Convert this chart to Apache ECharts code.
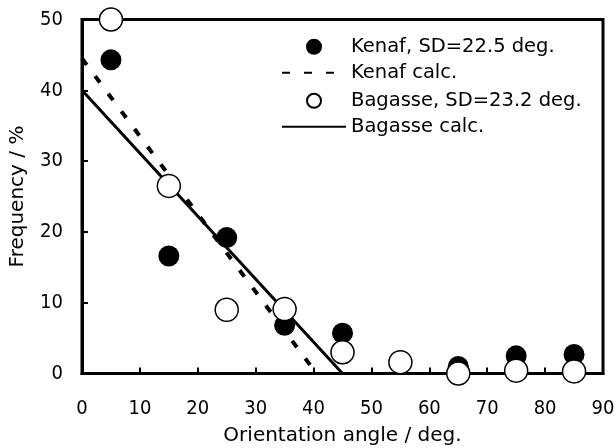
<!DOCTYPE html>
<html>
<head>
<meta charset="utf-8">
<script src="https://cdn.jsdelivr.net/npm/echarts@6/dist/echarts.min.js"></script>
<style>
  html, body { margin: 0; padding: 0; background: #fff; }
  #chart { width: 616px; height: 448px; }
</style>
</head>
<body>
<div id="chart"></div>
<script>
// Fibre orientation angle distribution: measured frequencies and calculated lines
const angles = [5, 15, 25, 35, 45, 55, 65, 75, 85];
const kenafFreq = [44.3, 16.6, 19.2, 6.8, 5.7, 1.5, 1.0, 2.5, 2.7];
const bagasseFreq = [50.0, 26.5, 9.0, 9.1, 3.0, 1.6, 0.0, 0.4, 0.3];

const kenafCalcAngle = [0, 40.5];
const kenafCalcFreq = [44.5, 0];
const bagasseCalcAngle = [0, 45];
const bagasseCalcFreq = [40, 0];

const xTicks = [0, 10, 20, 30, 40, 50, 60, 70, 80, 90];
const yTicks = [0, 10, 20, 30, 40, 50];

const seriesNames = [
  'Kenaf, SD=22.5 deg.',
  'Kenaf calc.',
  'Bagasse, SD=23.2 deg.',
  'Bagasse calc.'
];

const pairs = (xs, ys) => xs.map((x, i) => [x, ys[i]]);

const FONT = 'DejaVu Sans';
const TICK_FONT = 'DejaVu Sans Condensed';
const TITLE_SIZE = 20;
const TICK_SIZE = 20;
const LEGEND_SIZE = 19.5;

// One single-entry legend per row so each icon can get its own size
function legendRow(entry, left, centerY, iconH) {
  return {
    data: [entry],
    orient: 'vertical',
    left: left,
    top: centerY - LEGEND_SIZE / 2,
    padding: 0,
    itemWidth: 64,
    itemHeight: iconH,
    textStyle: { fontFamily: FONT, fontSize: LEGEND_SIZE, color: '#000' }
  };
}

const chart = echarts.init(document.getElementById('chart'), null, { renderer: 'canvas' });

chart.setOption({
  animation: false,
  backgroundColor: '#fff',
  textStyle: { fontFamily: FONT, color: '#000' },
  grid: {
    left: 82, right: 13, top: 19.5, bottom: 74.5,
    containLabel: false,
    outerBoundsMode: 'none',
    show: true, borderColor: '#000', borderWidth: 3, backgroundColor: 'transparent'
  },
  legend: [
    legendRow({ name: seriesNames[0], icon: 'circle' }, 306, 46.5, 16),
    legendRow({ name: seriesNames[1], itemStyle: { color: 'transparent', borderWidth: 0 } }, 281, 72.5, 16),
    legendRow({ name: seriesNames[2], icon: 'circle' }, 306, 100.5, 14),
    legendRow({ name: seriesNames[3], itemStyle: { color: 'transparent', borderWidth: 0 } }, 281, 126.5, 16)
  ],
  xAxis: {
    type: 'value',
    min: xTicks[0],
    max: xTicks[xTicks.length - 1],
    interval: xTicks[1] - xTicks[0],
    name: 'Orientation angle / deg.',
    nameLocation: 'middle',
    nameGap: 52,
    nameTextStyle: { fontFamily: FONT, fontSize: TITLE_SIZE, color: '#000' },
    axisLine: { show: true, onZero: false, lineStyle: { color: '#000', width: 3 } },
    axisTick: { show: true, inside: true, length: 6, lineStyle: { color: '#000', width: 2 } },
    axisLabel: { fontFamily: TICK_FONT, fontSize: TICK_SIZE, color: '#000', margin: 25 },
    splitLine: { show: false }
  },
  yAxis: {
    type: 'value',
    min: yTicks[0],
    max: yTicks[yTicks.length - 1],
    interval: yTicks[1] - yTicks[0],
    name: 'Frequency / %',
    nameLocation: 'middle',
    nameGap: 54,
    nameRotate: 90,
    nameTextStyle: { fontFamily: FONT, fontSize: TITLE_SIZE, color: '#000' },
    axisLine: { show: true, onZero: false, lineStyle: { color: '#000', width: 3 } },
    axisTick: { show: true, inside: true, length: 6, lineStyle: { color: '#000', width: 2 } },
    axisLabel: { fontFamily: TICK_FONT, fontSize: TICK_SIZE, color: '#000', margin: 19 },
    splitLine: { show: false }
  },
  series: [
    {
      name: seriesNames[1],
      type: 'line',
      data: pairs(kenafCalcAngle, kenafCalcFreq),
      showSymbol: false,
      symbol: 'none',
      z: 2,
      lineStyle: { color: '#000', width: 4, type: [8, 14] },
      itemStyle: { color: '#000' }
    },
    {
      name: seriesNames[3],
      type: 'line',
      data: pairs(bagasseCalcAngle, bagasseCalcFreq),
      showSymbol: false,
      symbol: 'none',
      z: 3,
      lineStyle: { color: '#000', width: 3, type: 'solid' },
      itemStyle: { color: '#000' }
    },
    {
      name: seriesNames[0],
      type: 'scatter',
      data: pairs(angles, kenafFreq),
      symbol: 'circle',
      symbolSize: 21,
      clip: false,
      z: 4,
      itemStyle: { color: '#000', borderColor: '#000', borderWidth: 0, opacity: 1 }
    },
    {
      name: seriesNames[2],
      type: 'scatter',
      data: pairs(angles, bagasseFreq),
      symbol: 'circle',
      symbolSize: 23,
      clip: false,
      z: 5,
      itemStyle: { color: '#fff', borderColor: '#000', borderWidth: 1.5, opacity: 1 }
    }
  ]
});
</script>
</body>
</html>
